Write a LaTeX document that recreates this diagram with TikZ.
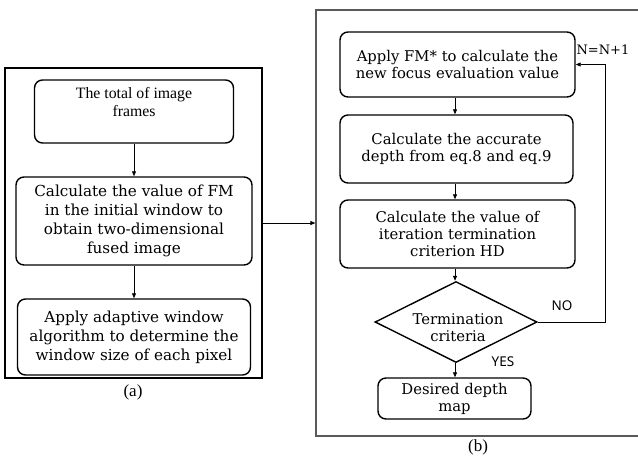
\documentclass[tikz,border=0pt]{standalone}
\usepackage{fontspec}
\setmainfont{DejaVu Serif}
\newfontfamily\timesf{Liberation Serif}
\newfontfamily\sansf{Noto Sans}
\usetikzlibrary{shapes.geometric,arrows.meta}
\begin{document}
\begin{tikzpicture}[x=1pt,y=-1pt,
  pbox/.style={draw,rounded corners=8pt,line width=1.4pt,align=center,inner sep=0pt},
  bfont/.style={font=\fontsize{15.2}{19}\selectfont},
  rfont/.style={font=\fontsize{14.8}{17}\selectfont},
  arr/.style={-{Triangle[length=5pt,width=4pt]},line width=0.8pt},
  lab/.style={font=\timesf\fontsize{17}{20}\selectfont}]
\useasboundingbox (0,0) rectangle (638,459);
% left frame (a)
\node[draw,line width=2pt,minimum width=257pt,minimum height=310pt,inner sep=0pt] (fa) at (133.5,223) {};
\node[pbox,minimum width=199pt,minimum height=63pt] (a1) at (134,111.5) {};
\node[font=\timesf\fontsize{15.8}{18.5}\selectfont,align=center] (a1t) at (134,102) {The total of image\\frames};
\node[pbox,bfont,minimum width=236pt,minimum height=88pt] (a2) at (134,221) {Calculate the value of FM\\in the initial window to\\obtain two-dimensional\\fused image};
\node[pbox,bfont,minimum width=233pt,minimum height=76pt] (a3) at (134,337) {Apply adaptive window\\algorithm to determine the\\window size of each pixel};
\draw[arr] (a1.south) -- (a2.north);
\draw[arr] (a2.south) -- (a3.north);
\node[lab] (la) at (133,392) {(a)};
% right frame (b)
\node[draw,line width=1.2pt,draw=black!65,minimum width=350pt,minimum height=426pt,inner sep=0pt] (fb) at (491,223) {};
\draw[arr] (fa.east) -- (fb.west);
\node[pbox,rfont,minimum width=235pt,minimum height=65pt] (b1) at (457.5,64.5) {Apply FM* to calculate the\\new focus evaluation value};
\node[pbox,rfont,minimum width=233pt,minimum height=68pt] (b2) at (456.5,149) {Calculate the accurate\\depth from eq.8 and eq.9};
\node[pbox,rfont,minimum width=235pt,minimum height=68pt] (b3) at (457.5,234) {Calculate the value of\\iteration termination\\criterion HD};
\node[draw,diamond,line width=1.4pt,minimum width=162pt,minimum height=81pt,inner sep=0pt] (d) at (456,322) {};
\node[rfont,align=center] (dt) at (458,328) {Termination\\criteria};
\node[pbox,rfont,minimum width=153pt,minimum height=41pt] (b4) at (454.5,398.5) {Desired depth\\map};
\draw[arr] (b1.south -| 455,0) -- (b2.north -| 455,0);
\draw[arr] (b2.south -| 455,0) -- (b3.north -| 455,0);
\draw[arr] (b3.south -| 455,0) -- (d.north -| 455,0);
\draw[arr] (d.south -| 455,0) -- (b4.north -| 455,0);
\coordinate (lp) at (605,64.5);
\draw[arr] (d.east) -| (lp) -- (b1.east);
\node[font=\fontsize{13}{15}\selectfont] (nn) at (603,50) {N=N+1};
\node[font=\sansf\fontsize{13.5}{15}\selectfont] (no) at (562,306) {NO};
\node[font=\sansf\fontsize{13.5}{15}\selectfont] (yes) at (503,362) {YES};
\node[lab] (lb) at (478,447) {(b)};
\end{tikzpicture}
\end{document}
